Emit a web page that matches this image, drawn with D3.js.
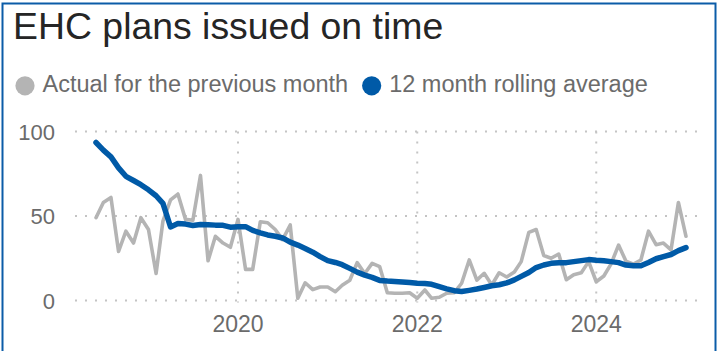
<!DOCTYPE html>
<html>
<head>
<meta charset="utf-8">
<script src="https://cdn.jsdelivr.net/npm/d3@7"></script>
<style>
  html, body { margin: 0; padding: 0; background: #fff; }
  svg { display: block; font-family: "Liberation Sans", Arial, sans-serif; }
</style>
</head>
<body>
<svg id="chart" width="718" height="351"></svg>
<script>
// Monthly series, June 2018 to January 2025
const firstMonth = new Date(2018, 5, 1);
const lastMonth = new Date(2025, 0, 1);
const months = d3.timeMonth.range(firstMonth, d3.timeMonth.offset(lastMonth, 1));

// Percentage of EHC plans issued within 20 weeks, actual for the previous month
const actual = [
  49, 58, 61, 29, 41, 34, 49, 42, 16, 47,
  59.5, 63, 48, 47.5, 74, 23.5, 38, 34, 31.5, 48,
  18.4, 18.4, 46.6, 46, 42, 36, 44.7, 1.3, 10.5, 6.4,
  8, 8, 5.2, 9, 12, 22.4, 16, 22, 20, 4.6,
  4.3, 4.3, 4.6, 1.3, 6.2, 1.3, 1.9, 4.3, 4.6, 10.2,
  24, 12.1, 16.1, 9.2, 16.4, 13.9, 16.8, 23, 40.3, 42,
  26.6, 25, 27.5, 12.3, 15.3, 16.4, 23, 11.1, 14.5, 21.5,
  32.8, 23.3, 21.5, 24, 41, 33, 34, 30, 58, 38
];

// 12 month rolling average
const rolling = [
  93.5, 89, 85, 78.5, 73.5, 71, 68.5, 65.5, 62, 57.5,
  43.5, 45.5, 45.2, 44.4, 45, 44.8, 44.6, 44.5, 43.4, 43.7,
  43.7, 41.5, 40, 38.8, 38, 37, 34.5, 32.8, 30.8, 28.6,
  26, 23.6, 22.5, 21.2, 19, 16.8, 15, 13.7, 11.9, 11.5,
  11.3, 11, 10.6, 10.2, 10, 9.6, 8.2, 6.9, 5.8, 5.3,
  6, 6.8, 7.7, 8.7, 9.3, 10.4, 12.2, 14.3, 16.6, 19.5,
  21, 22, 22.4, 22.4, 23, 23.6, 24.2, 23.8, 23.5, 23,
  22.4, 21, 20.5, 20.5, 22.5, 24.7, 26, 27.2, 29.5, 31.3
];

const yTicks = [0, 50, 100];
const xTickYears = [2020, 2022, 2024];

const titleText = "EHC plans issued on time";
const legendItems = [
  { label: "Actual for the previous month", color: "#b4b4b4" },
  { label: "12 month rolling average", color: "#005aa7" }
];

const svg = d3.select("#chart");
const gridColor = "#c4c4c4";
const textGray = "#6b6b6b";

// Frame
svg.append("rect")
  .attr("x", 2.5).attr("y", 3.5)
  .attr("width", 713).attr("height", 400)
  .attr("fill", "none")
  .attr("stroke", "#0b5ca8")
  .attr("stroke-width", 2);

// Title
svg.append("text")
  .attr("x", 13).attr("y", 38.5)
  .attr("font-size", 37.4)
  .attr("fill", "#252525")
  .text(titleText);

// Legend
const legend = svg.append("g");
let lx = 25;
legendItems.forEach((item) => {
  legend.append("circle")
    .attr("cx", lx).attr("cy", 85.8).attr("r", 9.6)
    .attr("fill", item.color);
  const t = legend.append("text")
    .attr("x", lx + 17.5).attr("y", 91.7)
    .attr("font-size", 23.5)
    .attr("fill", textGray)
    .text(item.label);
  lx = lx + 17.5 + t.node().getComputedTextLength() + 23.5;
});

// Scales
const plotLeft = 75, plotRight = 697;
const x = d3.scaleTime()
  .domain([firstMonth, lastMonth])
  .range([96, 686]);
const y = d3.scaleLinear()
  .domain([0, 100])
  .range([300.5, 131.5]);

// Horizontal dotted gridlines with y labels
const yAxis = svg.append("g");
yAxis.selectAll("line")
  .data(yTicks)
  .join("line")
  .attr("x1", plotLeft).attr("x2", plotRight)
  .attr("y1", d => y(d)).attr("y2", d => y(d))
  .attr("stroke", gridColor)
  .attr("stroke-width", 2)
  .attr("stroke-dasharray", "2,8");
yAxis.selectAll("text")
  .data(yTicks)
  .join("text")
  .attr("x", 55)
  .attr("y", d => y(d))
  .attr("dy", "0.37em")
  .attr("text-anchor", "end")
  .attr("font-size", 22)
  .attr("fill", textGray)
  .text(d => d);

// Vertical dotted gridlines with year labels
const xTicks = xTickYears.map(yr => new Date(yr, 0, 1));
const xAxis = svg.append("g");
xAxis.selectAll("line")
  .data(xTicks)
  .join("line")
  .attr("x1", d => x(d)).attr("x2", d => x(d))
  .attr("y1", y(100)).attr("y2", y(0) + 2)
  .attr("stroke", gridColor)
  .attr("stroke-width", 2)
  .attr("stroke-dasharray", "2,8");
xAxis.selectAll("text")
  .data(xTicks)
  .join("text")
  .attr("x", d => x(d))
  .attr("y", 331.5)
  .attr("text-anchor", "middle")
  .attr("font-size", 23)
  .attr("fill", textGray)
  .text(d3.timeFormat("%Y"));

// Lines
const line = d3.line()
  .x((d, i) => x(months[i]))
  .y(d => y(d))
  .curve(d3.curveLinear);

svg.append("path")
  .datum(actual)
  .attr("d", line)
  .attr("fill", "none")
  .attr("stroke", legendItems[0].color)
  .attr("stroke-width", 3.6)
  .attr("stroke-linejoin", "round")
  .attr("stroke-linecap", "round");

svg.append("path")
  .datum(rolling)
  .attr("d", line)
  .attr("fill", "none")
  .attr("stroke", legendItems[1].color)
  .attr("stroke-width", 5.5)
  .attr("stroke-linejoin", "round")
  .attr("stroke-linecap", "round");
</script>
</body>
</html>
